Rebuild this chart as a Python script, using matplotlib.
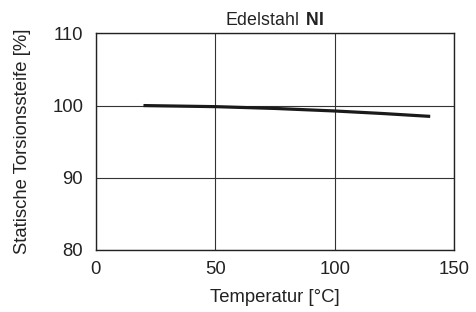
import matplotlib
matplotlib.use("Agg")
import matplotlib.pyplot as plt

plt.rcParams['font.family'] = ['Liberation Sans', 'DejaVu Sans']
plt.rcParams['mathtext.fontset'] = 'custom'
plt.rcParams['mathtext.rm'] = 'Liberation Sans'
plt.rcParams['mathtext.bf'] = 'Liberation Sans:bold'

# data
temperature = [20, 50, 75, 100, 120, 140]
stiffness = [100.0, 99.85, 99.6, 99.25, 98.9, 98.5]

x_ticks = [0, 50, 100, 150]
y_ticks = [80, 90, 100, 110]

fig = plt.figure(figsize=(4.76, 3.12), dpi=100)
ax = fig.add_axes([0.201, 0.199, 0.753, 0.694])

ax.plot(temperature, stiffness, color='#1a1a1a', linewidth=2.3, solid_capstyle='butt')

ax.set_xlim(0, 150)
ax.set_ylim(80, 110)
ax.set_xticks(x_ticks)
ax.set_yticks(y_ticks)
ax.grid(True, color='#333333', linewidth=0.8)
ax.set_axisbelow(True)
ax.tick_params(axis='x', length=0, pad=8, labelsize=13.3, colors='#222222')
ax.tick_params(axis='y', length=0, pad=9, labelsize=13.3, colors='#222222')
for s in ax.spines.values():
    s.set_color('#222222')
    s.set_linewidth(1.0)

ax.set_xlabel('Temperatur [°C]', fontsize=13.3, color='#222222', labelpad=8)
ax.set_ylabel('Statische Torsionssteife [%]', fontsize=13.3, color='#222222', labelpad=15)
ax.set_title(r'Edelstahl $\,\mathbf{NI}$', fontsize=12.8, color='#222222', pad=6)

fig.savefig('out.png', dpi=100)
